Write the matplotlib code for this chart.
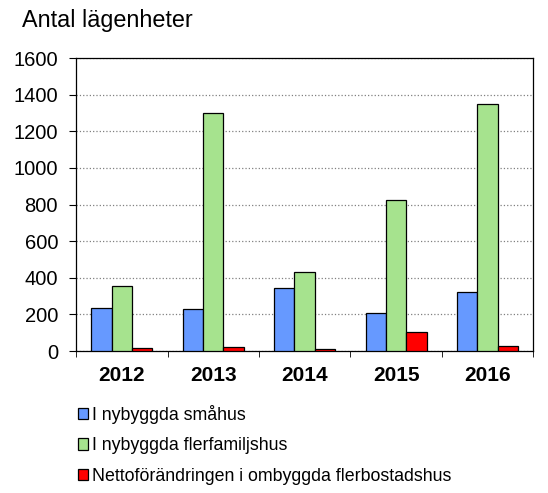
import numpy as np
import matplotlib.pyplot as plt
from matplotlib.patches import Patch

plt.rcParams['font.family'] = ['Liberation Sans', 'DejaVu Sans']

years = ['2012', '2013', '2014', '2015', '2016']
smahus = [233, 229, 345, 205, 325]
flerfamiljshus = [353, 1300, 429, 827, 1351]
ombyggda = [15, 20, 9, 102, 25]

labels = ['I nybyggda småhus', 'I nybyggda flerfamiljshus',
          'Nettoförändringen i ombyggda flerbostadshus']
colors = ['#6699ff', '#a6e38e', '#ff0000']

fig = plt.figure(figsize=(5.48, 4.93), dpi=100)
ax = fig.add_axes([0.139, 0.288, 0.834, 0.594])

x = np.arange(len(years))
w = 0.223
for i, vals in enumerate([smahus, flerfamiljshus, ombyggda]):
    ax.bar(x + (i - 1) * w, vals, width=w, color=colors[i],
           edgecolor='black', linewidth=0.9, zorder=3)

ax.set_xlim(-0.5, len(years) - 0.5)
ax.set_ylim(0, 1600)
ax.set_yticks(range(0, 1601, 200))
ax.yaxis.grid(True, color='#808080', linestyle=':', linewidth=0.9, zorder=0)
ax.tick_params(axis='y', labelsize=14.5, length=5, direction='out', pad=8)

ax.set_xticks(x)
ax.set_xticklabels(years, fontsize=15, fontweight='bold')
ax.tick_params(axis='x', which='major', length=0, pad=11)
ax.set_xticks(np.arange(-0.5, len(years)), minor=True)
ax.tick_params(axis='x', which='minor', length=4.5, direction='out')

for s in ax.spines.values():
    s.set_linewidth(0.9)

fig.text(0.04, 0.958, 'Antal lägenheter', fontsize=16.8, va='center')

handles = [Patch(facecolor=c, edgecolor='black', linewidth=0.9) for c in colors]
fig.legend(handles, labels, loc='upper left', bbox_to_anchor=(0.129, 0.193),
           frameon=False, fontsize=12.8, handlelength=0.6, handleheight=0.6,
           handletextpad=0.2, labelspacing=0.75, borderaxespad=0)

fig.savefig('out.png', dpi=100)
